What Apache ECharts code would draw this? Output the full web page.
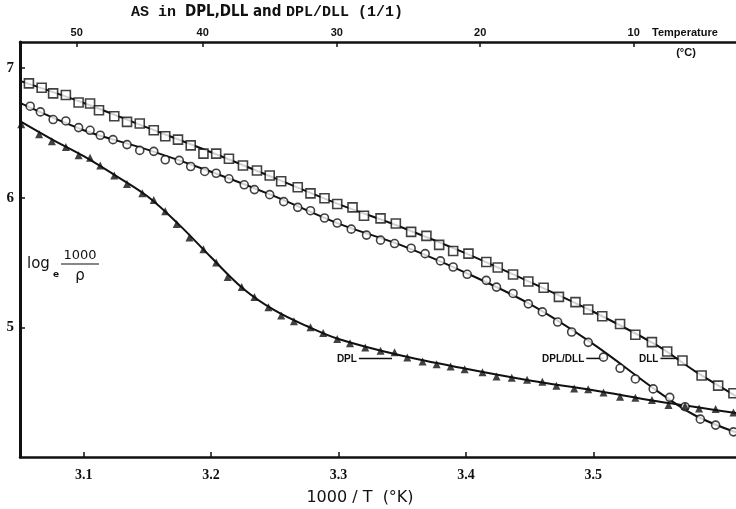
<!DOCTYPE html>
<html>
<head>
<meta charset="utf-8">
<script src="https://cdn.jsdelivr.net/npm/echarts@6/dist/echarts.min.js"></script>
<style>
html,body{margin:0;padding:0;background:#fff;}
#c{width:736px;height:509px;}
</style>
</head>
<body>
<div id="c"></div>
<script>
// ---- data (x = 1000/T in 1/K, y = log_e(1000/rho)) ----
const xTicks = [3.1, 3.2, 3.3, 3.4, 3.5];
const yTicks = [5, 6, 7];
const tempTicksC = [50, 40, 30, 20, 10];

// DLL (squares) measured points
const dllX = [3.057,3.067,3.076,3.086,3.096,3.105,3.112,3.124,3.134,3.144,3.155,3.164,3.174,3.184,3.194,3.204,3.214,3.225,3.236,3.246,3.255,3.268,3.278,3.289,3.299,3.311,3.320,3.333,3.345,3.357,3.369,3.379,3.390,3.402,3.416,3.425,3.437,3.449,3.461,3.473,3.486,3.496,3.507,3.521,3.533,3.546,3.558,3.570,3.585,3.598,3.610];
const dllY = [6.881,6.847,6.804,6.791,6.734,6.726,6.674,6.628,6.584,6.571,6.519,6.473,6.447,6.403,6.339,6.339,6.300,6.248,6.209,6.171,6.126,6.080,6.033,5.995,5.951,5.925,5.860,5.840,5.801,5.736,5.705,5.636,5.589,5.568,5.504,5.461,5.407,5.353,5.305,5.235,5.194,5.137,5.085,5.026,4.943,4.886,4.814,4.744,4.628,4.550,4.491];
// DLL fitted curve
const dllCurveX = [3.05,3.10,3.15,3.20,3.25,3.30,3.35,3.40,3.45,3.50,3.55,3.58,3.612];
const dllCurveY = [6.90,6.73,6.54,6.35,6.15,5.95,5.77,5.57,5.35,5.12,4.86,4.66,4.47];

// DPL/DLL (circles) measured points
const mixX = [3.058,3.066,3.076,3.086,3.096,3.105,3.113,3.123,3.134,3.144,3.155,3.164,3.175,3.184,3.195,3.204,3.214,3.226,3.234,3.246,3.257,3.268,3.278,3.289,3.299,3.310,3.322,3.333,3.344,3.357,3.368,3.380,3.390,3.401,3.416,3.424,3.437,3.449,3.460,3.472,3.483,3.496,3.508,3.521,3.533,3.547,3.560,3.572,3.584,3.596,3.610];
const mixY = [6.705,6.661,6.602,6.591,6.540,6.519,6.481,6.447,6.409,6.364,6.357,6.292,6.287,6.240,6.202,6.188,6.145,6.099,6.062,6.023,5.969,5.925,5.899,5.843,5.804,5.757,5.711,5.672,5.646,5.610,5.568,5.512,5.465,5.409,5.362,5.310,5.261,5.181,5.119,5.041,4.964,4.884,4.770,4.684,4.602,4.525,4.460,4.388,4.292,4.246,4.194];
const mixCurveX = [3.05,3.10,3.15,3.20,3.25,3.30,3.35,3.40,3.45,3.50,3.55,3.58,3.612];
const mixCurveY = [6.73,6.52,6.37,6.20,6.01,5.80,5.63,5.42,5.18,4.87,4.51,4.32,4.19];

// DPL (triangles) measured points
const dplX = [3.051,3.065,3.075,3.086,3.096,3.105,3.113,3.124,3.134,3.146,3.155,3.164,3.173,3.183,3.194,3.204,3.213,3.224,3.234,3.245,3.255,3.265,3.278,3.288,3.299,3.309,3.321,3.333,3.344,3.354,3.366,3.377,3.388,3.399,3.413,3.424,3.436,3.448,3.460,3.471,3.485,3.496,3.508,3.521,3.533,3.546,3.559,3.572,3.583,3.596,3.610];
const dplY = [6.566,6.488,6.434,6.390,6.326,6.308,6.248,6.171,6.106,6.033,5.982,5.894,5.796,5.692,5.602,5.500,5.388,5.310,5.233,5.155,5.091,5.047,5.000,4.956,4.909,4.878,4.845,4.819,4.808,4.767,4.736,4.716,4.698,4.677,4.653,4.620,4.612,4.595,4.581,4.550,4.529,4.522,4.498,4.465,4.457,4.440,4.401,4.393,4.374,4.370,4.343];
const dplCurveX = [3.05,3.075,3.10,3.125,3.15,3.175,3.20,3.225,3.25,3.275,3.30,3.35,3.40,3.45,3.50,3.55,3.612];
const dplCurveY = [6.59,6.45,6.32,6.17,6.01,5.79,5.54,5.30,5.13,5.01,4.91,4.78,4.68,4.59,4.515,4.43,4.34];

// curve labels: text, leader line start x, leader line end x, y
const noteText = ['DPL', 'DPL/DLL', 'DLL'];
const noteX1 = [3.316, 3.4945, 3.5527];
const noteX2 = [3.342, 3.5079, 3.5684];
const noteY = [4.76, 4.76, 4.76];

const zip = (xs, ys) => xs.map((x, i) => [x, ys[i]]);

const chart = echarts.init(document.getElementById('c'), null, {renderer: 'canvas'});
const black = '#111';
const option = {
  backgroundColor: '#fff',
  animation: false,
  grid: {left: 20, right: 0, top: 42, bottom: 52},
  xAxis: [{
    type: 'value', min: 3.05, max: 3.612, position: 'bottom',
    axisLine: {show: true, lineStyle: {color: black, width: 2.5}},
    axisTick: {show: true, inside: true, length: 5, customValues: xTicks, lineStyle: {color: black, width: 1.5}},
    axisLabel: {customValues: xTicks, margin: 11, color: black, fontSize: 14, fontWeight: 'bold',
      fontFamily: 'Liberation Serif', formatter: v => v.toFixed(1)},
    splitLine: {show: false}
  }, {
    type: 'value', min: 3.05, max: 3.612, position: 'top',
    axisLine: {show: true, lineStyle: {color: black, width: 2.5}},
    axisTick: {show: true, inside: true, length: 5, customValues: tempTicksC.map(t => 1000 / (t + 273.15)), lineStyle: {color: black, width: 1.5}},
    axisLabel: {customValues: tempTicksC.map(t => 1000 / (t + 273.15)), margin: 4, color: black, fontSize: 11, fontWeight: 'bold',
      fontFamily: 'Liberation Sans', formatter: v => String(Math.round(1000 / v - 273.15))},
    splitLine: {show: false}
  }],
  yAxis: {
    type: 'value', min: 4.0, max: 7.2,
    axisLine: {show: true, lineStyle: {color: black, width: 3}},
    axisTick: {show: true, inside: true, length: 5, customValues: yTicks, lineStyle: {color: black, width: 1.5}},
    axisLabel: {customValues: yTicks, margin: 6, color: black, fontSize: 15, fontWeight: 'bold', fontFamily: 'Liberation Serif'},
    splitLine: {show: false}
  },
  series: [
    {type: 'line', data: zip(dllCurveX, dllCurveY), smooth: 0.35, symbol: 'none', lineStyle: {color: black, width: 2}, z: 2},
    {type: 'line', data: zip(mixCurveX, mixCurveY), smooth: 0.35, symbol: 'none', lineStyle: {color: black, width: 2}, z: 2},
    {type: 'line', data: zip(dplCurveX, dplCurveY), smooth: 0.35, symbol: 'none', lineStyle: {color: black, width: 2}, z: 2},
    {type: 'scatter', name: 'DLL', data: zip(dllX, dllY), symbol: 'rect', symbolSize: 9,
      itemStyle: {color: '#fff', borderColor: black, borderWidth: 1.6}, z: 3},
    {type: 'scatter', name: 'DPL/DLL', data: zip(mixX, mixY), symbol: 'circle', symbolSize: 8,
      itemStyle: {color: '#fff', borderColor: black, borderWidth: 1.6}, z: 3},
    {type: 'scatter', name: 'DPL', data: zip(dplX, dplY), symbol: 'triangle', symbolSize: 8,
      itemStyle: {color: black}, z: 3}
  ]
};
chart.setOption(option);

const graphics = [];
// title
graphics.push({type: 'text', left: 131, top: 5, style: {
  text: '{a|AS in }{b|DPL,DLL and }{a|DPL/DLL (1/1)}',
  rich: {
    a: {fontFamily: 'Liberation Mono', fontWeight: 'bold', fontSize: 15, fill: black},
    b: {fontFamily: 'DejaVu Sans Condensed, Liberation Sans', fontWeight: 'bold', fontSize: 15, fill: black}
  }}});
// top axis name
graphics.push({type: 'text', x: 652, y: 33, style: {text: 'Temperature', fontFamily: 'Liberation Sans', fontWeight: 'bold', fontSize: 11, fill: black, verticalAlign: 'middle'}});
graphics.push({type: 'text', x: 686, y: 53, style: {text: '(°C)', fontFamily: 'Liberation Sans', fontWeight: 'bold', fontSize: 11, fill: black, align: 'center', verticalAlign: 'middle'}});
// x axis name
graphics.push({type: 'text', x: 360, y: 498, style: {text: '1000 / T  (°K)', fontFamily: 'DejaVu Sans', fontSize: 16, fill: black, align: 'center', verticalAlign: 'middle'}});
// y axis name: log_e 1000/rho
graphics.push({type: 'text', x: 27, y: 264, style: {text: 'log', fontFamily: 'DejaVu Sans', fontSize: 15, fill: black, verticalAlign: 'middle'}});
graphics.push({type: 'text', x: 53, y: 275, style: {text: 'e', fontFamily: 'DejaVu Sans', fontWeight: 'bold', fontSize: 9, fill: black, verticalAlign: 'middle'}});
graphics.push({type: 'text', x: 80, y: 256, style: {text: '1000', fontFamily: 'DejaVu Sans', fontSize: 13, fill: black, align: 'center', verticalAlign: 'middle'}});
graphics.push({type: 'line', shape: {x1: 61, y1: 264, x2: 99, y2: 264}, style: {stroke: black, lineWidth: 1.2}});
graphics.push({type: 'text', x: 80, y: 276, style: {text: 'ρ', fontFamily: 'DejaVu Sans', fontSize: 15, fill: black, align: 'center', verticalAlign: 'middle'}});
// curve labels with leader lines
noteText.forEach((t, i) => {
  const p1 = chart.convertToPixel({gridIndex: 0}, [noteX1[i], noteY[i]]);
  const p2 = chart.convertToPixel({gridIndex: 0}, [noteX2[i], noteY[i]]);
  graphics.push({type: 'line', shape: {x1: p1[0], y1: p1[1], x2: p2[0], y2: p2[1]}, style: {stroke: black, lineWidth: 1.5}});
  graphics.push({type: 'text', x: p1[0] - 2, y: p1[1] + 1, style: {text: t, fontFamily: 'Liberation Sans', fontWeight: 'bold', fontSize: 10, fill: black, align: 'right', verticalAlign: 'middle'}});
});
chart.setOption({graphic: graphics});
</script>
</body>
</html>
